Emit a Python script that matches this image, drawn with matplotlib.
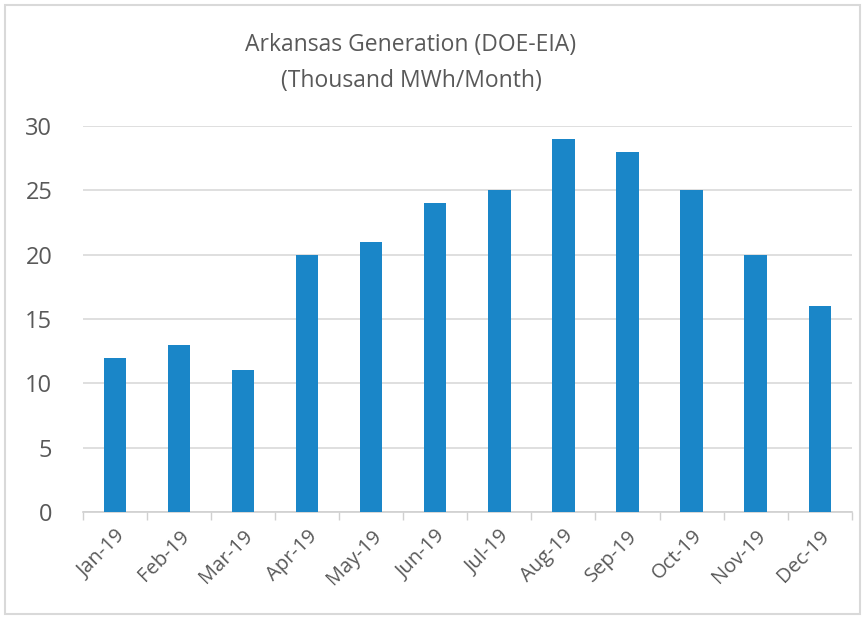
import matplotlib
matplotlib.use("Agg")
import matplotlib.pyplot as plt
from matplotlib.patches import Rectangle

months = ["Jan-19", "Feb-19", "Mar-19", "Apr-19", "May-19", "Jun-19",
          "Jul-19", "Aug-19", "Sep-19", "Oct-19", "Nov-19", "Dec-19"]
generation = [12, 13, 11, 20, 21, 24, 25, 29, 28, 25, 20, 16]
yticks = [0, 5, 10, 15, 20, 25, 30]

plt.rcParams['font.family'] = ['Open Sans', 'DejaVu Sans']
text_color = '#595959'
bar_color = '#1a86c8'

fig = plt.figure(figsize=(8.63, 6.20), dpi=100)
ax = fig.add_axes([0.096, 0.174, 0.891, 0.623])

x = list(range(len(months)))
ax.bar(x, generation, width=0.35, color=bar_color, zorder=3)

ax.set_xlim(-0.5, len(months) - 0.5)
ax.set_ylim(0, 30)
ax.set_yticks(yticks)
ax.set_yticklabels([str(v) for v in yticks], fontsize=17, color=text_color)
ax.set_xticks(x)
ax.set_xticklabels(months, rotation=45, ha='right', rotation_mode='anchor',
                   fontsize=14.5, color=text_color)
ax.tick_params(axis='y', length=0, pad=22)
ax.tick_params(axis='x', length=0, pad=10)
# minor ticks at category boundaries
ax.set_xticks([i - 0.5 for i in range(len(months) + 1)], minor=True)
ax.tick_params(axis='x', which='minor', length=6, color='#d0d0d0', width=1)

ax.grid(axis='y', color='#d9d9d9', linewidth=1.2, zorder=0)
for s in ['top', 'right', 'left']:
    ax.spines[s].set_visible(False)
ax.spines['bottom'].set_color('#d0d0d0')
ax.spines['bottom'].set_linewidth(1.2)

fig.text(0.476, 0.927, "Arkansas Generation (DOE-EIA)", ha='center', va='center',
         fontsize=16.5, color=text_color)
fig.text(0.477, 0.870, "(Thousand MWh/Month)", ha='center', va='center',
         fontsize=16.5, color=text_color)

fig.patches.append(Rectangle((0.006, 0.01), 0.99, 0.982, transform=fig.transFigure,
                             fill=False, edgecolor='#d9d9d9', linewidth=1.5))

fig.savefig("out.png", dpi=100)
